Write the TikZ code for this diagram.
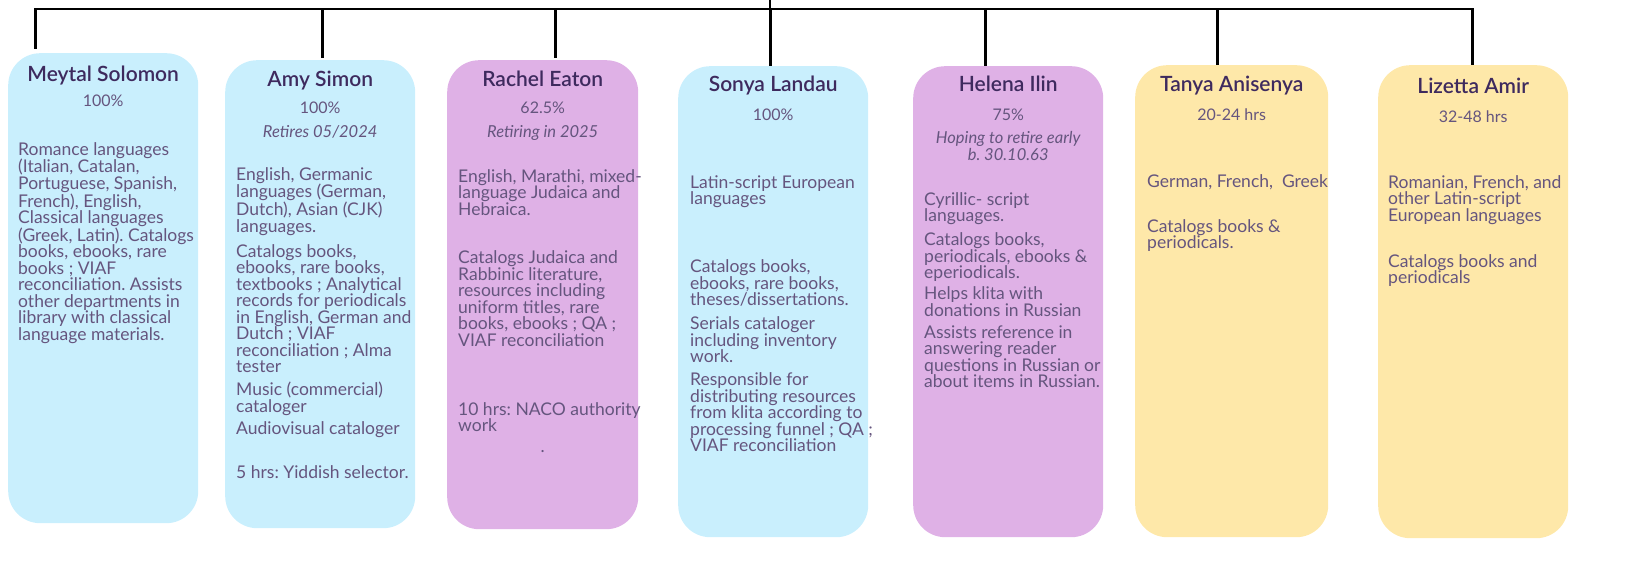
\documentclass[tikz,border=0pt]{standalone}
\usepackage{fontspec}
\setmainfont{Lato}
\newfontfamily\namefont{Lato Semibold}
\usetikzlibrary{positioning,calc}
\definecolor{cardblue}{HTML}{C9EFFD}
\definecolor{cardpurple}{HTML}{DFB1E6}
\definecolor{cardyellow}{HTML}{FEE8A9}
\definecolor{nametext}{HTML}{3E2A5E}
\definecolor{bodytext}{HTML}{65557E}
\frenchspacing
\tikzset{
	card/.style = {rectangle, rounded corners=32pt, inner sep=0pt,
		minimum width=190pt, minimum height=470pt, anchor=north west},
	bluecard/.style = {card, fill=cardblue},
	purplecard/.style = {card, fill=cardpurple},
	yellowcard/.style = {card, fill=cardyellow},
	namenode/.style = {inner sep=0pt, text=nametext, font=\fontsize{21}{24}\selectfont\namefont,
		text height=15.5pt, text depth=4.5pt},
	pctnode/.style = {inner sep=0pt, text=bodytext, font=\fontsize{16}{17}\selectfont,
		text height=12pt, text depth=3pt},
	notenode/.style = {inner sep=0pt, text=bodytext, font=\fontsize{16.5}{17}\selectfont\itshape, align=center},
	bodynode/.style = {inner sep=0pt, text=bodytext, font=\fontsize{17.5}{16.5}\selectfont,
		align=left, anchor=north west},
	orgline/.style = {draw, black, line width=2.6pt},
}

\begin{document}
\begin{tikzpicture}[x=1pt, y=-1pt]
	\useasboundingbox (0,0) rectangle (1652,570);
	%Cards
	\node[bluecard, minimum height=470pt] (meytal) at (8,53) {};
	\node[bluecard, minimum height=468pt] (amy) at (225,60) {};
	\node[purplecard, minimum width=191pt, minimum height=469pt] (rachel) at (447,60) {};
	\node[bluecard, minimum height=471pt] (sonya) at (678,66) {};
	\node[purplecard, minimum height=471pt] (helena) at (913,66) {};
	\node[yellowcard, minimum width=193pt, minimum height=472pt] (tanya) at (1135,65) {};
	\node[yellowcard, minimum height=473pt] (lizetta) at (1378,65) {};
	%Names
	\node[namenode] (meytalname) [below=13pt of meytal.north] {Meytal Solomon};
	\node[namenode] (amyname) [below=11pt of amy.north] {Amy Simon};
	\node[namenode] (rachelname) [below=11pt of rachel.north] {Rachel Eaton};
	\node[namenode] (sonyaname) [below=10pt of sonya.north] {Sonya Landau};
	\node[namenode] (helenaname) [below=10pt of helena.north] {Helena Ilin};
	\node[namenode] (tanyaname) [below=11pt of tanya.north] {Tanya Anisenya};
	\node[namenode] (lizettaname) [below=13pt of lizetta.north] {Lizetta Amir};
	%Hours
	\node[pctnode] (meytalpct) [below=8pt of meytalname] {100\%};
	\node[pctnode] (amypct) [below=10pt of amyname] {100\%};
	\node[pctnode] (rachelpct) [below=10pt of rachelname] {62.5\%};
	\node[pctnode] (sonyapct) [below=12pt of sonyaname] {100\%};
	\node[pctnode] (helenapct) [below=12pt of helenaname] {75\%};
	\node[pctnode] (tanyapct) [below=12pt of tanyaname] {20-24 hrs};
	\node[pctnode] (lizettapct) [below=12pt of lizettaname] {32-48 hrs};
	\node[notenode] (amynote) [below=8pt of amypct] {Retires 05/2024};
	\node[notenode] (rachelnote) [below=8pt of rachelpct] {Retiring in 2025};
	\node[notenode] (helenanote) [below=7pt of helenapct] {Hoping to retire early\\b. 30.10.63};
	%Duties
	\node[bodynode] (meytalbody) at ([xshift=10pt, yshift=-89pt]meytal.north west) {Romance languages\\(Italian, Catalan,\\Portuguese, Spanish,\\French), English,\\Classical languages\\(Greek, Latin). Catalogs\\books, ebooks, rare\\books ; VIAF\\reconciliation. Assists\\other departments in\\library with classical\\language materials.};
	\node[bodynode] (amybody) at ([xshift=11pt, yshift=-107pt]amy.north west) {English, Germanic\\languages (German,\\Dutch), Asian (CJK)\\languages.\\[8.5pt]Catalogs books,\\ebooks, rare books,\\textbooks ; Analytical\\records for periodicals\\in English, German and\\Dutch ; VIAF\\reconciliation ; Alma\\tester\\[6.5pt]Music (commercial)\\cataloger\\[5.5pt]Audiovisual cataloger\\[27.5pt]5 hrs: Yiddish selector.};
	\node[bodynode] (rachelbody) at ([xshift=11pt, yshift=-109pt]rachel.north west) {English, Marathi, mixed-\\language Judaica and\\Hebraica.\\[32pt]Catalogs Judaica and\\Rabbinic literature,\\resources including\\uniform titles, rare\\books, ebooks ; QA ;\\VIAF reconciliation\\[52.5pt]10 hrs: NACO authority\\work};
	\node[bodynode, anchor=center] (racheldot) at ([yshift=-392pt]rachel.north) {.};
	\node[bodynode] (sonyabody) at ([xshift=12pt, yshift=-109pt]sonya.north west) {Latin-script European\\languages\\[51.5pt]Catalogs books,\\ebooks, rare books,\\theses/dissertations.\\[7.5pt]Serials cataloger\\including inventory\\work.\\[6.5pt]Responsible for\\distributing resources\\from klita according to\\processing funnel ; QA ;\\VIAF reconciliation};
	\node[bodynode] (helenabody) at ([xshift=11pt, yshift=-126pt]helena.north west) {Cyrillic- script\\languages.\\[7.5pt]Catalogs books,\\periodicals, ebooks \&\\eperiodicals.\\[4.5pt]Helps klita with\\donations in Russian\\[5.5pt]Assists reference in\\answering reader\\questions in Russian or\\about items in Russian.};
	\node[bodynode] (tanyabody) at ([xshift=12pt, yshift=-109pt]tanya.north west) {German, French,\ \ Greek\\[28.5pt]Catalogs books \&\\periodicals.};
	\node[bodynode] (lizettabody) at ([xshift=10pt, yshift=-110pt]lizetta.north west) {Romanian, French, and\\other Latin-script\\European languages\\[29.5pt]Catalogs books and\\periodicals};
	%Lines
	\coordinate (root) at (770,0);
	\coordinate (bus) at (770,9);
	\draw[orgline] (root) -- (bus);
	\draw[orgline] (bus) -| ([xshift=-68pt, yshift=4pt]meytal.north);
	\draw[orgline] (bus) -| ([xshift=2pt, yshift=2pt]amy.north);
	\draw[orgline] (bus) -| ([xshift=12.5pt, yshift=2pt]rachel.north);
	\draw[orgline] (bus) -| ([xshift=-3pt]sonya.north);
	\draw[orgline] (bus) -| ([xshift=-23pt]helena.north);
	\draw[orgline] (bus) -| ([xshift=-14.5pt]tanya.north);
	\draw[orgline] (bus) -| ([xshift=-1pt]lizetta.north);
\end{tikzpicture}
\end{document}
